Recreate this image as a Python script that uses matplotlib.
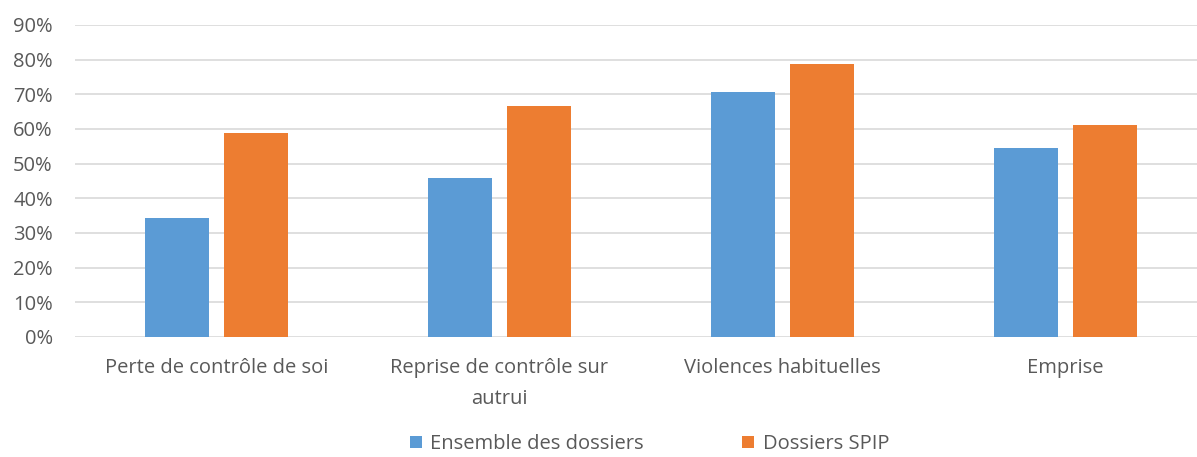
import matplotlib.pyplot as plt
import numpy as np
from matplotlib.ticker import PercentFormatter

plt.rcParams['font.family'] = ['Open Sans', 'DejaVu Sans']

categories = ["Perte de contrôle de soi", "Reprise de contrôle sur\nautrui",
              "Violences habituelles", "Emprise"]
ensemble = [0.342, 0.458, 0.708, 0.546]
spip = [0.588, 0.665, 0.787, 0.611]
series_names = ["Ensemble des dossiers", "Dossiers SPIP"]

blue = "#5B9BD5"
orange = "#ED7D31"
grey = "#595959"

fig = plt.figure(figsize=(11.97, 4.57), dpi=100)
ax = fig.add_axes([75 / 1197, 1 - 337 / 457, 1132 / 1197, 312 / 457])

x = np.arange(len(categories))
w = 0.227
ax.bar(x - 0.14, ensemble, w, color=blue, label=series_names[0], zorder=3)
ax.bar(x + 0.14, spip, w, color=orange, label=series_names[1], zorder=3)

ax.set_ylim(0, 0.9)
ax.set_xlim(-0.5, 3.5)
ax.set_yticks(np.arange(0, 0.91, 0.1))
ax.yaxis.set_major_formatter(PercentFormatter(1.0, decimals=0))
ax.grid(axis='y', color="#D9D9D9", linewidth=1.2, zorder=0)
for s in ax.spines.values():
    s.set_visible(False)
ax.tick_params(length=0, colors=grey, labelsize=14.5)
ax.tick_params(axis='y', pad=16)
ax.set_xticks(x)
ax.set_xticklabels(categories, linespacing=1.75)
ax.tick_params(axis='x', pad=15)

leg = fig.legend(loc='center', bbox_to_anchor=(0.5426, 0.028), ncol=2,
                 frameon=False, fontsize=14.5, handlelength=0.6, handleheight=0.6,
                 handletextpad=0.4, columnspacing=4.9)
for t in leg.get_texts():
    t.set_color(grey)

fig.savefig("out.png", dpi=100)
